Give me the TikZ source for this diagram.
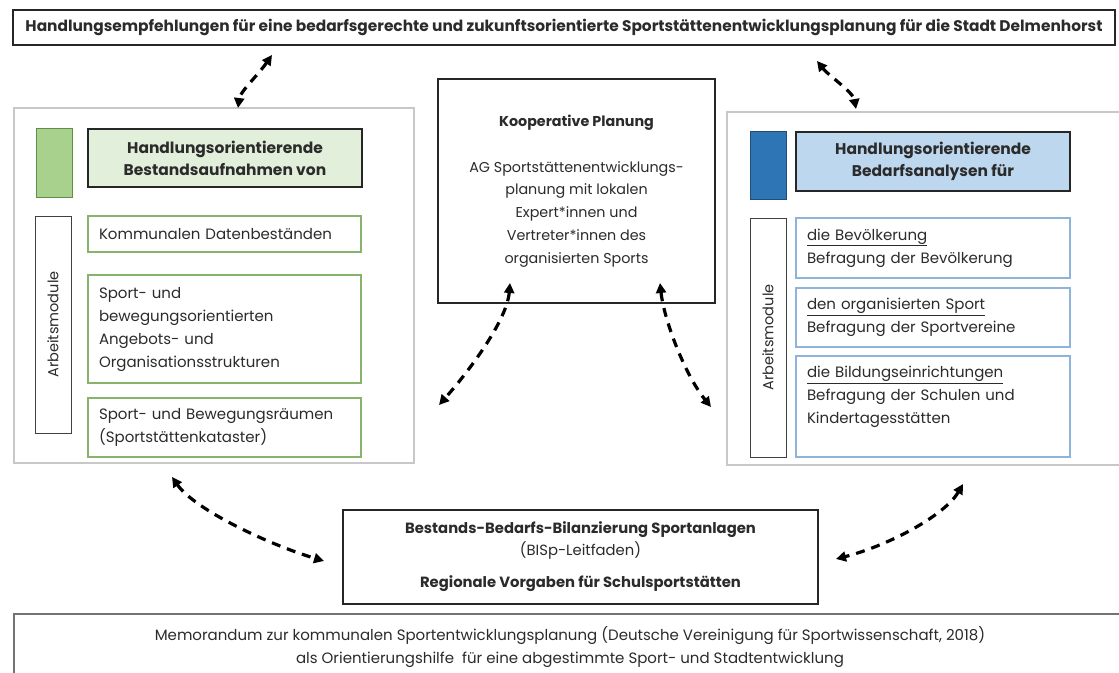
\documentclass[tikz,border=0pt]{standalone}
\usepackage{fontspec}
\setmainfont{Poppins}
\usetikzlibrary{arrows.meta}
\definecolor{panelgray}{HTML}{C8C8C8}
\definecolor{gsqfill}{HTML}{A9D18E}
\definecolor{gsqdraw}{HTML}{5E8F45}
\definecolor{gtitlefill}{HTML}{E2EFDA}
\definecolor{gboxdraw}{HTML}{86B46C}
\definecolor{bsqfill}{HTML}{2E75B6}
\definecolor{bsqdraw}{HTML}{1F4E79}
\definecolor{btitlefill}{HTML}{BDD7EE}
\definecolor{bboxdraw}{HTML}{8FB4DC}
\definecolor{txt}{HTML}{2B2B2B}
\begin{document}
\begin{tikzpicture}[x=1pt,y=-1pt,
  every node/.style={text=txt},
  panel/.style={draw=panelgray,line width=1.2pt,inner sep=0pt},
  sqbox/.style={line width=0.9pt,inner sep=0pt},
  headbox/.style={draw=black!85,line width=1.8pt,align=center,inner sep=2pt,
    font=\fontsize{15.5}{22}\selectfont\bfseries},
  arbbox/.style={draw=black!75,line width=1pt,rotate=90,inner sep=0pt,minimum height=36pt,
    font=\fontsize{14.5}{16}\selectfont},
  modbox/.style={line width=1.1pt,align=left,inner xsep=11pt,inner ysep=2pt,
    font=\fontsize{15}{23}\selectfont},
  gmod/.style={modbox,draw=gboxdraw},
  bmod/.style={modbox,draw=bboxdraw},
  plainbox/.style={draw=black!85,line width=1.8pt,align=center,inner sep=2pt},
  dar/.style={line width=3.2pt,dash pattern=on 9pt off 7pt,
    {Triangle[length=10pt,width=10pt]}-{Triangle[length=10pt,width=10pt]}}
]
\clip (0,0) rectangle (1119,672);
\fill[white] (0,0) rectangle (1119,672);

% top title
\node[plainbox,minimum width=1102pt,minimum height=35pt,line width=2pt,
  font=\fontsize{15.4}{18}\selectfont\bfseries] (title) at (564,27.5)
  {Handlungsempfehlungen für eine bedarfsgerechte und zukunftsorientierte Sportstättenentwicklungsplanung für die Stadt Delmenhorst};

% left panel
\node[panel,minimum width=400pt,minimum height=355pt] (lpanel) at (214,285.5) {};
\node[sqbox,draw=gsqdraw,fill=gsqfill,minimum width=36pt,minimum height=69pt] (gsq) at (54,162.5) {};
\node[headbox,fill=gtitlefill,minimum width=274pt,minimum height=58pt] (gtitle) at (225,158)
  {Handlungsorientierende\\Bestandsaufnahmen von};
\node[arbbox,minimum width=217pt] (larb) at (53,324.5) {Arbeitsmodule};
\node[gmod,minimum width=273pt,minimum height=36pt,text width=251pt] (lm1) at (224.5,234)
  {Kommunalen Datenbeständen};
\node[gmod,minimum width=273pt,minimum height=108pt,text width=251pt] (lm2) at (224.5,329)
  {Sport- und\\bewegungsorientierten\\Angebots- und\\Organisationsstrukturen};
\node[gmod,minimum width=273pt,minimum height=59pt,text width=251pt] (lm3) at (224.5,427.5)
  {Sport- und Bewegungsräumen\\(Sportstättenkataster)};

% center box
\node[plainbox,minimum width=277pt,minimum height=224pt,
  font=\fontsize{14.3}{22.7}\selectfont] (coop) at (576.5,191)
  {\textbf{Kooperative Planung}\\[23pt]
   AG Sportstättenentwicklungs-\\planung mit lokalen\\Expert*innen und\\Vertreter*innen des\\organisierten Sports};

% right panel
\node[panel,minimum width=400pt,minimum height=353pt] (rpanel) at (927,288.5) {};
\node[sqbox,draw=bsqdraw,fill=bsqfill,minimum width=36pt,minimum height=68pt] (bsq) at (768,165) {};
\node[headbox,fill=btitlefill,minimum width=274pt,minimum height=59pt] (btitle) at (933,161.5)
  {Handlungsorientierende\\Bedarfsanalysen für};
\node[arbbox,minimum width=239pt] (rarb) at (768,337.5) {Arbeitsmodule};
\node[bmod,minimum width=274pt,minimum height=60pt,text width=252pt] (rm1) at (933,248)
  {\underline{die Bevölkerung}\\Befragung der Bevölkerung};
\node[bmod,minimum width=274pt,minimum height=59pt,text width=252pt] (rm2) at (933,317.5)
  {\underline{den organisierten Sport}\\Befragung der Sportvereine};
\node[bmod,minimum width=274pt,minimum height=101pt,text width=252pt] (rm3) at (933,406.5)
  {\underline{die Bildungseinrichtungen}\\Befragung der Schulen und\\Kindertagesstätten\\\mbox{}};

% bottom balance box
\node[plainbox,minimum width=475pt,minimum height=94pt,
  font=\fontsize{14.8}{22}\selectfont] (bil) at (580.5,557)
  {\textbf{Bestands-Bedarfs-Bilanzierung Sportanlagen}\\(BISp-Leitfaden)\\[10pt]
   \textbf{Regionale Vorgaben für Schulsportstätten}};

% memorandum box
\node[panel,draw=black!55,line width=1.4pt,minimum width=1112pt,minimum height=66pt,align=center,
  font=\fontsize{15}{23}\selectfont] (memo) at (570,647)
  {Memorandum zur kommunalen Sportentwicklungsplanung (Deutsche Vereinigung für Sportwissenschaft, 2018)\\
   als Orientierungshilfe \ für eine abgestimmte Sport- und Stadtentwicklung};

% arrow end points
\coordinate (a1t) at (272,55);  \coordinate (a1b) at (238,108);
\coordinate (a2t) at (817,61);  \coordinate (a2b) at (856,109);
\coordinate (a3t) at (510,283); \coordinate (a3b) at (439,405);
\coordinate (a4t) at (660,283); \coordinate (a4b) at (711,407);
\coordinate (a5t) at (172,477); \coordinate (a5b) at (324,561);
\coordinate (a6t) at (963,484); \coordinate (a6b) at (836,559);

\draw[dar] (a1t) .. controls (258,75) and (240,92) .. (a1b);
\draw[dar] (a2t) .. controls (829,76) and (853,92) .. (a2b);
\draw[dar] (a3t) .. controls (507,320) and (470,370) .. (a3b);
\draw[dar] (a4t) .. controls (664,320) and (685,375) .. (a4b);
\draw[dar] (a5t) .. controls (195,510) and (270,545) .. (a5b);
\draw[dar] (a6t) .. controls (945,515) and (890,545) .. (a6b);
\end{tikzpicture}
\end{document}
